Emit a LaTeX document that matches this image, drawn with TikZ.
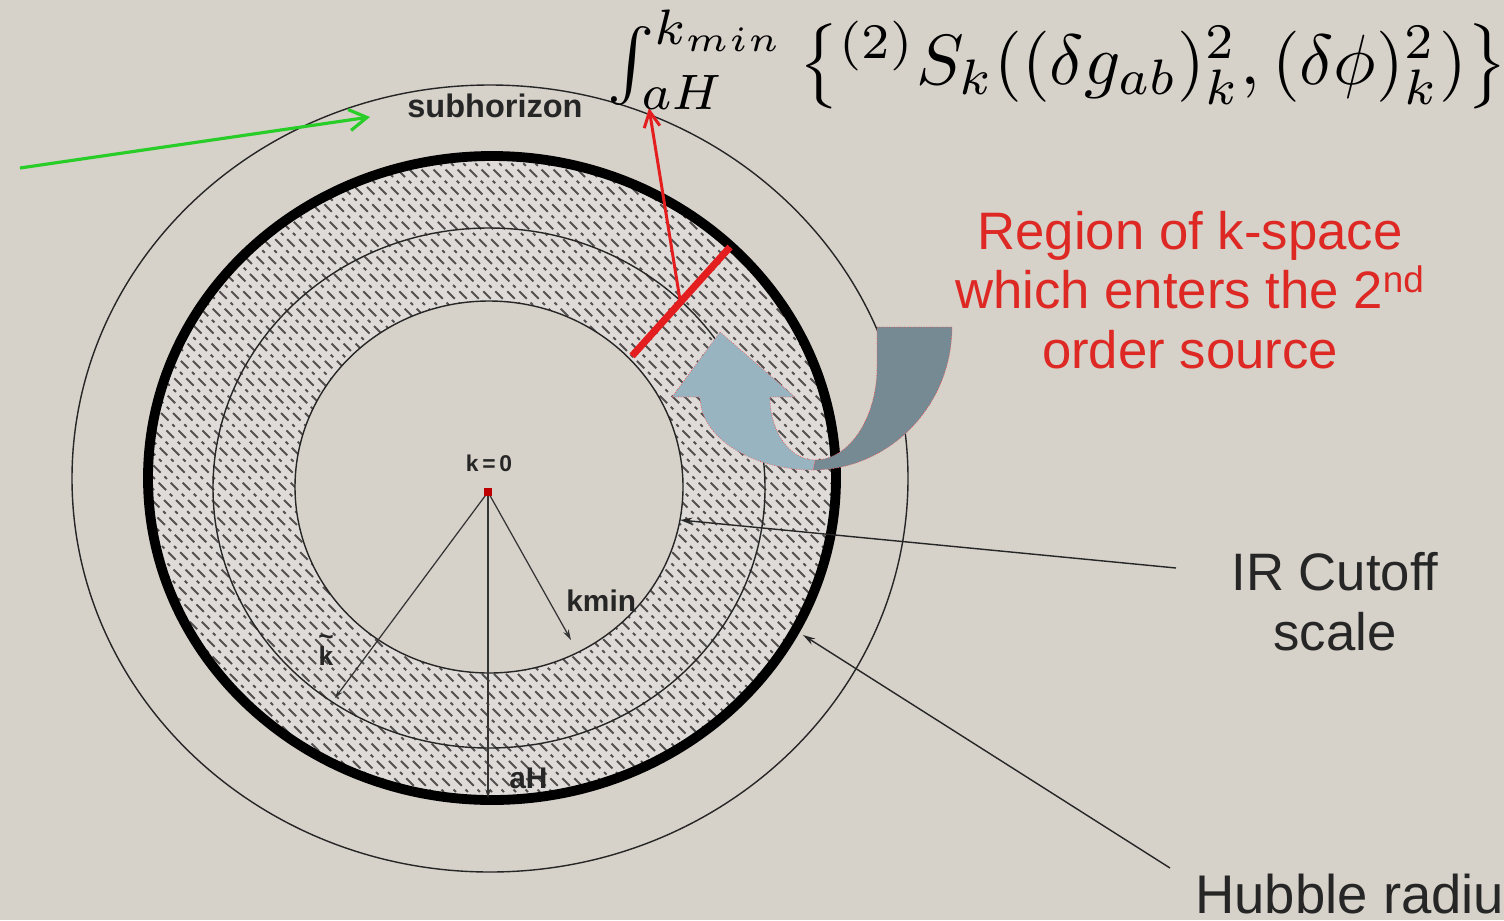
\documentclass[tikz,border=0pt]{standalone}
\usepackage[no-math]{fontspec}
\newfontfamily\arial{Liberation Sans}
\usetikzlibrary{arrows.meta,calc}
\definecolor{bg}{RGB}{214,209,201}
\definecolor{hatchbg}{RGB}{222,219,216}
\definecolor{hatchdash}{RGB}{85,80,80}
\definecolor{redtext}{RGB}{222,40,36}
\definecolor{barred}{RGB}{228,30,30}
\definecolor{greenarr}{RGB}{40,205,40}
\definecolor{darkband}{RGB}{118,138,148}
\definecolor{lightband}{RGB}{152,180,193}
\tikzset{
  thin circ/.style={draw=black!85, line width=0.8pt},
  thick circ/.style={draw=black, line width=5.6pt},
  hatchline/.style={draw=hatchdash, line width=1.05pt, dash pattern=on 6pt off 3pt on 2pt off 3pt},
  radius line/.style={draw=black!80, line width=0.7pt},
  pointer/.style={draw=black!85, line width=0.8pt, -{Stealth[length=7pt,width=4pt]}},
  ribbon/.style={draw=red!70, line width=0.4pt, densely dotted},
  redtxt/.style={text=redtext, font=\arial\fontsize{30}{34}\selectfont, align=center, inner sep=0},
  blacktxt/.style={text=black!85, font=\arial\fontsize{30}{34}\selectfont, align=center, inner sep=0},
  smalllbl/.style={text=black!85, font=\arial\bfseries\fontsize{17}{20}\selectfont, inner sep=0},
}
\begin{document}
\begin{tikzpicture}[x=0.02cm,y=0.02cm]
\useasboundingbox (0,0) rectangle (1504,-920);
\fill[bg] (0,0) rectangle (1504,-920);

% outer (subhorizon) circle
\draw[thin circ] (490,-478.5) ellipse [x radius=418, y radius=393.5];

% hatched annulus
\begin{scope}
  \clip (492,-478) ellipse [x radius=344, y radius=322];
  \fill[hatchbg] (0,0) rectangle (1504,-920);
  \foreach \i in {-584,-572,...,800} \draw[hatchline] (\i,-100) -- ++(760,-760);
\end{scope}
\fill[bg] (489,-487) ellipse [x radius=194, y radius=186];

% middle and inner circles
\draw[thin circ] (489,-488) ellipse [x radius=276, y radius=260];
\draw[thin circ] (489,-487) ellipse [x radius=194, y radius=186];
% thick Hubble circle
\draw[thick circ] (492,-478) ellipse [x radius=344, y radius=322];

% radii
\coordinate (O) at (488,-492);
\coordinate (kt) at (335,-698);
\coordinate (km) at (571,-640);
\coordinate (ah) at (488,-798);
\draw[radius line, -{Stealth[length=5pt,width=3pt]}] (O) -- (kt);
\draw[radius line, -{Stealth[length=6pt,width=3.5pt]}] (O) -- (km);
\draw[radius line, -{Stealth[length=5pt,width=3pt]}] (O) -- (ah);
\fill[red!75!black] (484,-488) rectangle (492,-496);

% ribbon arrow
\path[ribbon, fill=darkband] (877,-327) -- (952,-327)
  .. controls (952,-406) and (889,-470) .. (813,-470)
  -- (815,-460)
  .. controls (849,-460) and (877,-418) .. (877,-367) -- cycle;
\path[ribbon, fill=lightband] (720,-332) -- (795,-397) -- (770,-397)
  .. controls (770,-432) and (790,-460) .. (815,-460)
  -- (813,-470)
  .. controls (751,-470) and (700,-437) .. (700,-397)
  -- (672,-397) -- cycle;

% red bar and red arrow
\coordinate (barA) at (632,-356);
\coordinate (barB) at (730,-247);
\coordinate (barM) at (680,-300);
\coordinate (intlim) at (649,-108);
\draw[barred, line width=4pt] (barA) -- (barB);
\draw[barred, line width=1.7pt, -{Straight Barb[length=9pt,width=9pt]}] (barM) -- (intlim);

% labels
\node[font=\arial\bfseries\fontsize{13}{15}\selectfont, text=black!85, inner sep=0] (k0) at (489,-463) {k\,=\,0};
\node[smalllbl, anchor=base west] (kmin) at (566,-611) {kmin};
\node[smalllbl, anchor=base west] (aH) at (509,-788) {aH};
\node[font=\arial\bfseries\fontsize{15}{15}\selectfont, text=black!85, inner sep=0, align=center] (ktil) at (326,-650) {\textasciitilde\\[-4pt]k};
\node[font=\arial\bfseries\fontsize{18.5}{21}\selectfont, text=black!85, anchor=base west, inner sep=0] (sub) at (407,-117) {subhorizon};

\node[anchor=base west, inner sep=0, scale=4.05] (formula) at (606,-84)
  {$\int_{aH}^{k_{min}}\, \bigl\{ {}^{(2)}S_k((\delta g_{ab})^2_k,(\delta\phi)^2_k)\bigr\}$};

\node[redtxt] (region) at (1190,-290) {Region of k-space\\which enters the 2\textsuperscript{nd}\\order source};
\node[blacktxt] (ir) at (1335,-602) {IR Cutoff\\scale};
\node[blacktxt, anchor=base west, font=\arial\fontsize{31}{34}\selectfont] (hub) at (1195,-913) {Hubble radius};

% pointers
\coordinate (irS) at (1176,-568);
\coordinate (irE) at (680,-520);
\coordinate (hubS) at (1170,-868);
\coordinate (hubE) at (803,-635);
\draw[pointer] (irS) -- (irE);
\draw[pointer] (hubS) -- (hubE);

% green arrow
\coordinate (gS) at (20,-168);
\coordinate (gE) at (370,-117);
\draw[greenarr, line width=1.8pt, -{Straight Barb[length=10pt,width=12pt]}] (gS) -- (gE);
\end{tikzpicture}
\end{document}
